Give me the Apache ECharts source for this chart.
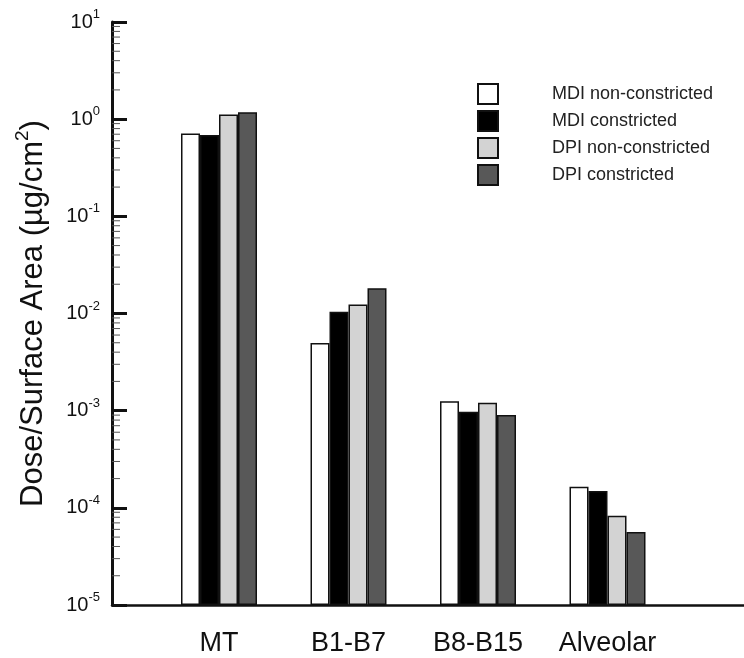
<!DOCTYPE html>
<html>
<head>
<meta charset="utf-8">
<script src="https://cdn.jsdelivr.net/npm/echarts@6/dist/echarts.min.js"></script>
<style>html,body{margin:0;padding:0;background:#fff;}#c{width:744px;height:658px;}</style>
</head>
<body>
<div id="c"></div>
<script>
const categories = ['MT', 'B1-B7', 'B8-B15', 'Alveolar'];
const seriesNames = ['MDI non-constricted', 'MDI constricted', 'DPI non-constricted', 'DPI constricted'];
const mdiNonConstricted = [0.714, 0.00497, 0.001247, 0.000165];
const mdiConstricted = [0.687, 0.01045, 0.000977, 0.000149];
const dpiNonConstricted = [1.12, 0.01241, 0.001208, 0.000083];
const dpiConstricted = [1.175, 0.01815, 0.000901, 0.0000563];
const seriesColors = ['#ffffff', '#000000', '#d3d3d3', '#585858'];
const yMin = 1e-5, yMax = 10;
const minorMultipliers = [2, 3, 4, 5, 6, 7, 8, 9];
const decadeExponents = [-5, -4, -3, -2, -1, 0];

const FONT = 'Liberation Sans, Arial, sans-serif';
const values = [mdiNonConstricted, mdiConstricted, dpiNonConstricted, dpiConstricted];

const minorTicks = [];
decadeExponents.forEach(e => minorMultipliers.forEach(m => minorTicks.push([0, m * Math.pow(10, e)])));

const chart = echarts.init(document.getElementById('c'), null, {renderer: 'canvas'});

const barSeries = seriesNames.map((name, i) => ({
  name: name,
  type: 'bar',
  xAxisIndex: 0,
  yAxisIndex: 0,
  data: values[i],
  barWidth: 19,
  barGap: '0%',
  itemStyle: {color: seriesColors[i], borderColor: '#111', borderWidth: 1.5},
  emphasis: {disabled: true},
  animation: false
}));

const option = {
  animation: false,
  backgroundColor: '#fff',
  textStyle: {fontFamily: FONT},
  grid: [
    {left: 154.25, right: 71.75, top: 22, bottom: 53, containLabel: false},
    {left: 112, right: 0, top: 22, bottom: 53, containLabel: false}
  ],
  legend: {
    orient: 'vertical',
    left: 477,
    top: 83,
    padding: 0,
    itemWidth: 20,
    itemHeight: 20,
    itemGap: 5,
    icon: 'rect',
    data: seriesNames,
    textStyle: {fontFamily: FONT, fontSize: 18, color: '#222', padding: [0, 0, 0, 49]},
    selectedMode: false
  },
  xAxis: [
    {
      type: 'category', gridIndex: 0, data: categories,
      axisLine: {show: false}, axisTick: {show: false},
      axisLabel: {fontFamily: FONT, fontSize: 27, color: '#111', margin: 25}
    },
    {
      type: 'value', gridIndex: 1, min: 0, max: 1,
      axisLine: {show: true, onZero: false, lineStyle: {color: '#111', width: 2.5}},
      axisTick: {show: false}, axisLabel: {show: false}, splitLine: {show: false}
    }
  ],
  yAxis: [
    {
      type: 'log', gridIndex: 0, min: yMin, max: yMax, logBase: 10, startValue: yMin,
      show: false, splitLine: {show: false}
    },
    {
      type: 'log', gridIndex: 1, min: yMin, max: yMax, logBase: 10, interval: 1,
      axisLine: {show: true, onZero: false, lineStyle: {color: '#111', width: 3}},
      axisTick: {show: true, inside: true, length: 15, lineStyle: {color: '#111', width: 3}},
      splitLine: {show: false},
      axisLabel: {
        margin: 12,
        formatter: function (v) {
          const e = Math.round(Math.log10(v));
          return '{b|10}{s|' + e + '}';
        },
        rich: {
          b: {fontFamily: FONT, fontSize: 20, color: '#111', lineHeight: 28},
          s: {fontFamily: FONT, fontSize: 13, color: '#111', verticalAlign: 'top', lineHeight: 13}
        }
      },
      name: 'Dose/Surface Area (µg/cm{s|2})',
      nameLocation: 'middle',
      nameGap: 59,
      nameTextStyle: {
        fontFamily: FONT, fontSize: 31, color: '#111', lineHeight: 40,
        rich: {s: {fontFamily: FONT, fontSize: 19, color: '#111', verticalAlign: 'top', lineHeight: 19}}
      }
    }
  ],
  series: barSeries.concat([{
    type: 'custom',
    xAxisIndex: 1,
    yAxisIndex: 1,
    silent: true,
    clip: false,
    data: minorTicks,
    renderItem: function (params, api) {
      const p = api.coord([api.value(0), api.value(1)]);
      return {
        type: 'line',
        shape: {x1: p[0], y1: p[1], x2: p[0] + 8, y2: p[1]},
        style: {stroke: '#555', lineWidth: 1}
      };
    }
  }])
};
chart.setOption(option);
</script>
</body>
</html>
